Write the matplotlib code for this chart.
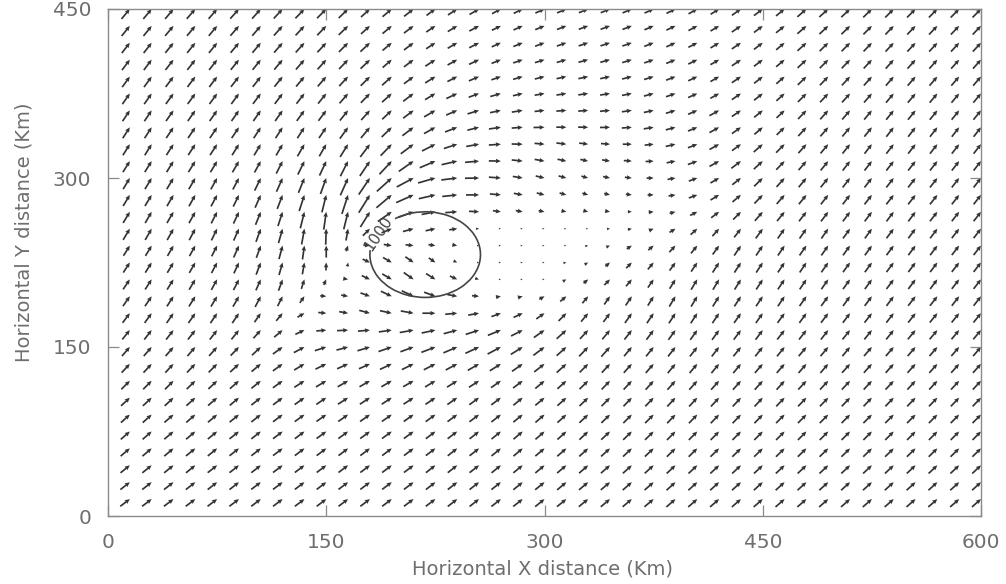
import numpy as np
import matplotlib
matplotlib.use("Agg")
import matplotlib.pyplot as plt
from matplotlib.patches import Arc

# Grid of wind vectors (km); arrow tips sit on the grid nodes
x_km = list(range(15, 601, 15))        # 40 columns
y_km = list(range(450, 0, -15))        # 30 rows, top row first

# Wind direction on screen (degrees from east, counter-clockwise), one string per row
direction_rows = [
    "50 50 50 49 49 48 48 47 46 45 44 42 40 38 36 33 30 28 26 24 23 22 22 23 24 26 29 32 35 37 39 41 42 43 44 45 45 45 45 45",
    "51 51 50 50 50 49 49 48 47 46 44 42 40 37 34 31 28 26 24 22 21 20 20 21 23 25 28 31 34 37 39 41 43 44 45 46 46 46 46 46",
    "52 52 51 51 51 50 50 49 48 47 45 43 40 37 33 30 27 24 22 20 19 18 18 19 21 24 27 31 34 37 40 42 44 45 46 47 47 47 47 47",
    "53 53 52 52 52 51 51 50 49 48 46 44 41 37 33 29 25 22 19 17 16 15 15 17 19 22 26 30 34 37 40 43 45 46 47 48 48 48 48 48",
    "54 54 53 53 53 52 52 51 50 49 47 45 42 37 32 27 23 19 16 14 12 12 12 14 17 21 25 30 34 38 41 44 46 47 48 49 49 49 49 49",
    "55 55 54 54 54 54 53 53 52 51 49 46 42 37 31 25 20 16 13 10 9 8 9 11 15 19 24 29 34 38 42 45 47 48 49 50 50 50 50 50",
    "56 56 55 55 55 55 55 55 54 53 51 48 43 37 30 23 17 12 9 6 4 4 5 8 12 17 23 29 34 39 43 46 48 49 50 51 51 51 51 51",
    "57 57 56 56 56 56 57 57 57 56 54 50 44 37 29 21 14 8 4 1 -1 -1 1 4 9 15 22 29 35 40 44 47 49 50 51 52 52 52 52 52",
    "58 58 57 57 57 58 59 60 60 60 58 53 46 37 27 18 10 4 -1 -5 -7 -7 -4 0 6 13 21 29 36 41 45 48 50 51 52 52 52 52 52 52",
    "58 58 58 58 59 60 61 63 64 65 63 56 47 35 23 13 5 -1 -6 -10 -12 -12 -9 -4 3 11 20 29 37 42 46 49 51 52 52 52 52 52 52 52",
    "59 59 59 60 61 62 64 66 68 70 66 56 42 28 16 7 1 -4 -9 -13 -15 -15 -12 -6 1 10 20 30 38 44 48 50 51 52 52 52 52 52 52 52",
    "59 59 60 61 62 64 66 69 72 76 72 58 40 24 13 6 0 -5 -10 -14 -16 -17 -14 -7 0 9 20 31 40 46 49 51 52 52 52 52 52 52 52 52",
    "59 60 60 61 63 65 68 72 76 82 76 58 35 20 11 4 -3 -8 -10 -11 -12 -14 -10 -2 5 15 27 37 45 49 51 52 53 53 53 53 53 52 52 52",
    "59 60 61 62 64 66 70 74 80 88 80 45 22 15 12 8 2 0 0 0 0 0 5 12 22 32 42 48 52 54 55 55 55 54 54 53 53 53 52 52",
    "58 59 60 61 63 66 70 75 82 90 70 -5 -8 -6 -8 -10 0 0 0 0 0 10 22 33 40 47 51 54 56 56 56 55 55 54 54 53 53 53 52 52",
    "57 58 59 60 62 65 69 74 80 88 80 -25 -30 -35 -35 -25 0 0 0 0 10 30 40 45 50 54 56 57 57 57 56 56 55 54 54 53 53 53 52 52",
    "56 57 58 59 61 63 66 70 72 65 -10 -25 -30 -35 -32 -25 -15 0 0 0 30 40 45 50 55 58 59 59 58 57 56 56 55 54 54 53 53 53 52 52",
    "55 56 57 58 59 60 62 63 55 -5 -10 -20 -25 -25 -20 -10 -5 10 15 30 40 50 55 56 58 59 59 58 57 56 56 55 54 54 53 53 52 52 52 52",
    "53 54 55 55 56 56 55 50 30 -5 -10 -15 -12 -10 0 5 10 20 25 35 45 50 53 55 56 57 57 56 55 55 54 54 53 53 52 52 52 51 51 51",
    "51 52 52 52 52 51 48 40 25 5 3 5 8 10 12 15 18 22 27 35 42 47 50 52 53 54 54 54 53 53 52 52 52 51 51 51 50 50 50 50",
    "49 49 49 49 48 46 43 36 28 18 15 17 19 20 21 23 25 28 32 37 42 46 48 50 51 52 52 52 51 51 51 50 50 50 49 49 49 49 49 49",
    "47 47 47 46 45 43 40 36 31 26 24 24 25 26 27 28 30 32 35 38 42 45 47 48 49 50 50 50 50 49 49 49 49 48 48 48 48 48 48 48",
    "45 45 45 44 43 41 39 36 33 31 30 30 30 30 31 32 33 35 37 40 42 44 46 47 48 48 48 48 48 48 48 47 47 47 47 47 47 47 47 47",
    "43 43 43 42 41 40 38 37 35 34 33 33 33 33 34 35 36 37 39 40 42 44 45 46 46 47 47 47 47 47 46 46 46 46 46 46 46 46 46 46",
    "42 42 41 41 40 39 38 37 36 35 35 35 35 35 36 36 37 38 39 41 42 43 44 45 45 46 46 46 46 46 45 45 45 45 45 45 45 45 45 45",
    "41 41 40 40 39 38 38 37 37 36 36 36 36 36 37 37 38 39 40 41 42 43 43 44 44 45 45 45 45 45 45 45 45 45 45 45 45 45 45 45",
    "40 40 40 39 39 38 38 37 37 37 37 37 37 37 37 38 38 39 40 40 41 42 42 43 43 44 44 44 44 44 44 44 44 44 44 44 44 44 44 44",
    "39 39 39 39 38 38 38 37 37 37 37 37 37 37 38 38 38 39 39 40 40 41 41 42 42 43 43 43 43 43 43 43 43 43 43 43 43 43 43 43",
    "38 38 38 38 38 38 37 37 37 37 37 37 37 37 38 38 38 38 39 39 40 40 40 41 41 42 42 42 42 42 42 42 42 42 42 42 42 42 42 42",
    "37 37 37 37 37 37 37 37 37 37 37 37 37 37 37 38 38 38 38 39 39 39 40 40 40 41 41 41 41 41 41 41 41 41 41 41 41 41 41 41",
]

# Arrow length in pixels, one string per row
length_rows = [
    "13 13 13 13 13 13 13 13 13 13 13 12 12 12 11 11 11 10 10 10 10 10 10 10 10 10 10 10 11 11 11 12 12 12 12 12 12 12 12 12",
    "13 13 13 13 13 13 13 13 13 13 13 12 12 12 11 11 11 10 10 10 10 10 10 10 10 10 10 10 11 11 11 12 12 12 12 12 12 12 12 12",
    "13 13 13 13 13 13 13 13 13 13 13 13 12 12 11 11 11 10 10 10 10 10 10 10 10 10 10 10 11 11 11 12 12 12 12 12 12 12 12 12",
    "13 13 13 13 13 13 13 13 13 13 13 13 12 12 12 11 11 10 10 10 10 10 10 10 10 10 10 10 11 11 11 12 12 12 12 12 12 12 12 12",
    "13 13 13 13 13 13 13 13 13 13 13 13 13 12 12 11 11 10 10 10 10 10 10 10 10 10 10 10 11 11 11 12 12 12 12 12 12 12 12 12",
    "13 13 13 13 13 13 13 13 13 13 13 13 13 13 12 12 11 11 10 10 10 10 10 10 10 10 10 10 11 11 11 12 12 12 12 12 12 12 12 12",
    "13 13 13 13 13 13 13 13 13 13 13 13 13 13 13 12 12 11 11 10 10 10 10 10 10 10 10 11 11 11 11 12 12 12 12 12 12 12 12 12",
    "13 13 13 13 13 13 13 13 13 13 14 14 14 14 13 13 12 12 11 11 10 10 10 10 10 10 10 11 11 11 11 12 12 12 12 12 12 12 12 12",
    "13 13 13 13 13 13 13 13 14 14 15 16 16 16 15 14 13 12 11 10 10 9 9 9 9 10 10 11 11 12 12 12 12 12 12 12 12 12 12 12",
    "13 13 13 13 13 13 13 14 15 16 17 18 18 18 17 16 14 12 11 10 9 8 8 8 8 9 10 11 12 12 12 12 12 12 12 12 12 12 12 12",
    "13 13 13 13 13 13 14 15 16 17 19 20 20 19 18 16 14 12 10 9 8 7 7 7 7 8 9 10 11 12 12 12 12 12 12 12 12 12 12 12",
    "13 13 13 13 13 13 14 15 17 18 20 21 20 19 17 15 13 11 9 8 7 6 6 6 6 7 9 10 11 12 12 12 12 12 12 12 12 12 12 12",
    "13 13 13 13 13 13 14 15 17 18 18 18 17 16 14 12 10 8 7 6 5 5 5 4 5 6 8 10 11 12 12 12 12 12 12 12 12 12 12 12",
    "13 13 13 13 13 13 14 15 16 16 12 10 11 11 10 8 3 2 2 2 2 2 3 4 5 7 9 10 11 12 12 12 12 12 12 12 12 12 12 12",
    "12 12 12 12 12 13 13 14 14 12 6 6 8 8 7 5 2 2 2 2 2 3 4 6 7 9 10 11 12 12 12 12 12 12 12 12 12 12 12 12",
    "12 12 12 12 12 12 13 13 12 8 4 8 10 10 8 4 2 2 2 2 3 4 6 8 9 10 11 12 12 12 12 12 12 12 12 12 12 12 12 12",
    "12 12 12 12 12 12 12 12 10 6 5 9 11 12 11 8 4 2 2 2 4 6 8 9 10 11 12 12 12 12 12 12 12 12 12 12 12 12 12 12",
    "12 12 12 12 12 12 12 11 8 6 7 10 12 13 12 10 7 5 5 6 8 9 10 11 11 12 12 12 12 12 12 12 12 12 12 12 12 12 12 12",
    "12 12 12 12 12 12 11 10 8 8 9 11 12 13 13 12 11 10 10 10 11 11 11 12 12 12 12 12 12 12 12 12 12 12 12 12 12 12 12 12",
    "12 12 12 12 12 12 11 11 10 10 11 12 13 14 14 14 14 14 13 13 13 12 12 12 12 12 12 12 12 12 12 12 12 12 12 12 12 12 12 12",
    "12 12 12 12 12 12 12 12 12 12 12 13 14 14 15 15 15 15 14 14 13 13 13 12 12 12 12 12 12 12 12 12 12 12 12 12 12 12 12 12",
    "12 12 12 12 12 12 12 12 12 12 12 12 13 13 13 13 13 13 13 13 13 12 12 12 12 12 12 12 12 12 12 12 12 12 12 12 12 12 12 12",
    "12 12 12 12 12 12 12 12 12 12 12 12 12 12 12 12 12 12 12 12 12 12 12 12 12 12 12 12 12 12 12 12 12 12 12 12 12 12 12 12",
    "12 12 12 12 12 12 12 12 12 12 12 12 12 12 12 12 12 12 12 12 12 12 12 12 12 12 12 12 12 12 12 12 12 12 12 12 12 12 12 12",
    "12 12 12 12 12 12 12 12 12 12 12 12 12 12 12 12 12 12 12 12 12 12 12 12 12 12 12 12 12 12 12 12 12 12 12 12 12 12 12 12",
    "12 12 12 12 12 12 12 12 12 12 12 12 12 12 12 12 12 12 12 12 12 12 12 12 12 12 12 12 12 12 12 12 12 12 12 12 12 12 12 12",
    "12 12 12 12 12 12 12 12 12 12 12 12 12 12 12 12 12 12 12 12 12 12 12 12 12 12 12 12 12 12 12 12 12 12 12 12 12 12 12 12",
    "12 12 12 12 12 12 12 12 12 12 12 12 12 12 12 12 12 12 12 12 12 12 12 12 12 12 12 12 12 12 12 12 12 12 12 12 12 12 12 12",
    "12 12 12 12 12 12 12 12 12 12 12 12 12 12 12 12 12 12 12 12 12 12 12 12 12 12 12 12 12 12 12 12 12 12 12 12 12 12 12 12",
    "12 12 12 12 12 12 12 12 12 12 12 12 12 12 12 12 12 12 12 12 12 12 12 12 12 12 12 12 12 12 12 12 12 12 12 12 12 12 12 12",
]

# 1000 contour around the low
contour_level = 1000
contour_center_km = (218, 232)
contour_radius_km = 38
contour_label_km = (186, 251)

x_ticks = [0, 150, 300, 450, 600]
y_ticks = [0, 150, 300, 450]

ink = "#333333"
frame = "#8a8a8a"
label_col = "#6e6e6e"

direction = np.array([r.split() for r in direction_rows], dtype=float)
length = np.array([r.split() for r in length_rows], dtype=float)
X, Y = np.meshgrid(x_km, y_km)
U = length * np.cos(np.deg2rad(direction))
V = length * np.sin(np.deg2rad(direction))

fig = plt.figure(figsize=(10.06, 5.84), dpi=100)
ax = fig.add_axes([108 / 1006, (584 - 516) / 584, 873 / 1006, 507 / 584])

ax.quiver(X, Y, U, V, pivot="tip", angles="uv", scale_units="dots", scale=1,
          units="dots", width=1.7, headwidth=2.7, headlength=3.0,
          headaxislength=2.7, color=ink, minlength=0.6)

# contour line with a gap for its label
ax.add_patch(Arc(contour_center_km, 2 * contour_radius_km, 2 * contour_radius_km,
                 theta1=174, theta2=123, color="#444444", lw=1.2))
ax.text(*contour_label_km, str(contour_level), rotation=56, ha="center", va="center",
        fontsize=11, color="#444444")

ax.set_xlim(0, 600)
ax.set_ylim(0, 450)
ax.set_xticks(x_ticks)
ax.set_yticks(y_ticks)
ax.tick_params(direction="in", length=8, width=0.9, color=frame, top=True, right=True,
               labelsize=14.5, labelcolor=label_col, pad=12)
for s in ax.spines.values():
    s.set_color(frame)
    s.set_linewidth(1.0)

fig.text(542 / 1006, 1 - 569 / 584, "Horizontal X distance (Km)", ha="center", va="center",
         fontsize=14, color=label_col)
fig.text(24 / 1006, 1 - 232 / 584, "Horizontal Y distance (Km)", ha="center", va="center",
         rotation=90, fontsize=14, color=label_col)

fig.savefig("out.png", dpi=100, facecolor="white")
